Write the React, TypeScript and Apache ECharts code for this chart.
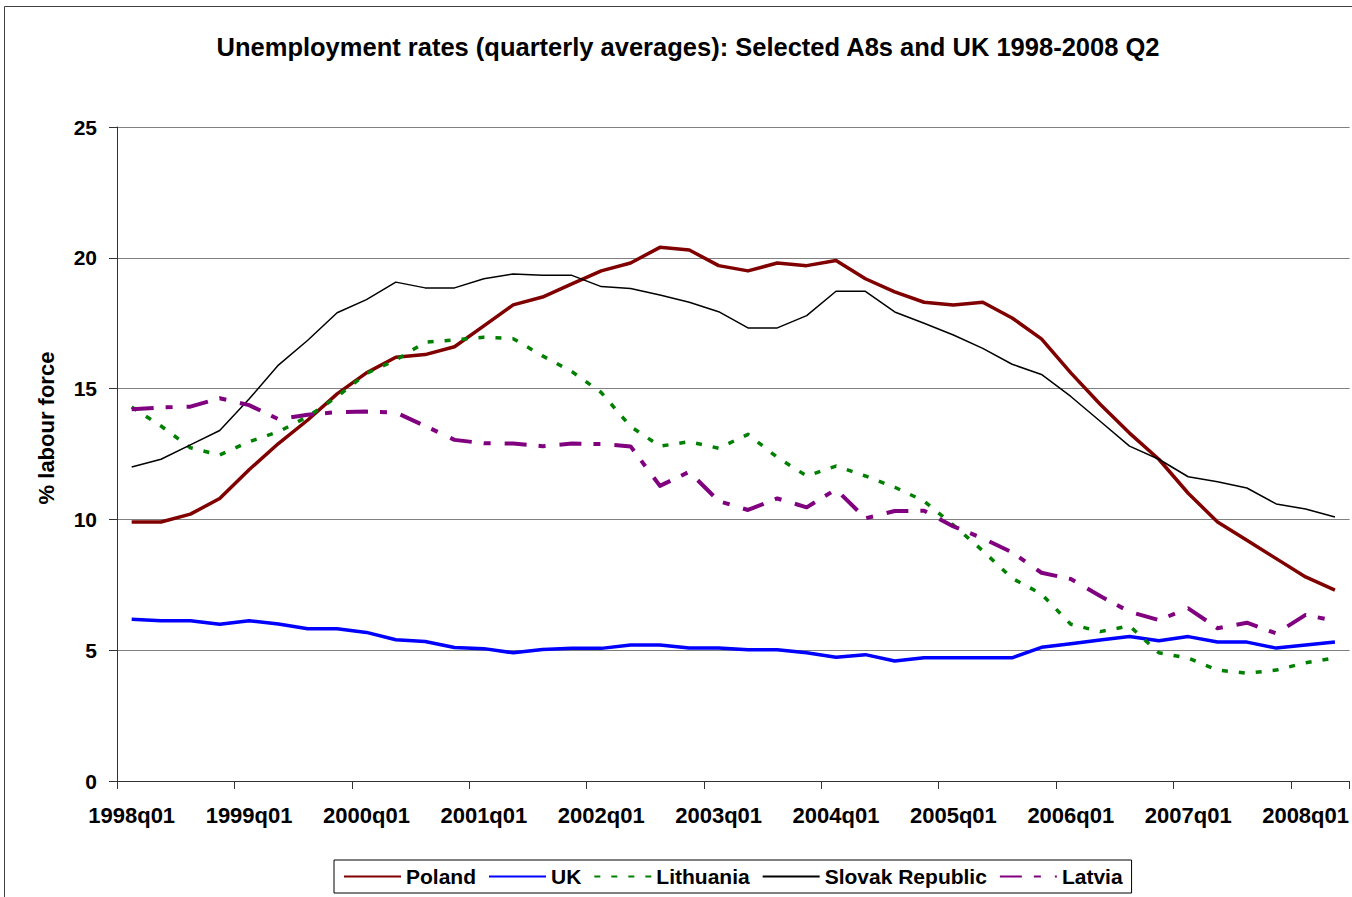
import React, { useEffect, useRef } from "react";
import * as echarts from "echarts";

const categories = [
  "1998q01", "1998q02", "1998q03", "1998q04",
  "1999q01", "1999q02", "1999q03", "1999q04",
  "2000q01", "2000q02", "2000q03", "2000q04",
  "2001q01", "2001q02", "2001q03", "2001q04",
  "2002q01", "2002q02", "2002q03", "2002q04",
  "2003q01", "2003q02", "2003q03", "2003q04",
  "2004q01", "2004q02", "2004q03", "2004q04",
  "2005q01", "2005q02", "2005q03", "2005q04",
  "2006q01", "2006q02", "2006q03", "2006q04",
  "2007q01", "2007q02", "2007q03", "2007q04",
  "2008q01", "2008q02",
];

const poland = [
  9.9, 9.9, 10.2, 10.8, 11.9, 12.9, 13.8, 14.8, 15.6, 16.2, 16.3, 16.6, 17.4, 18.2,
  18.5, 19.0, 19.5, 19.8, 20.4, 20.3, 19.7, 19.5, 19.8, 19.7, 19.9, 19.2, 18.7, 18.3,
  18.2, 18.3, 17.7, 16.9, 15.6, 14.4, 13.3, 12.3, 11.0, 9.9, 9.2, 8.5, 7.8, 7.3,
];
const uk = [
  6.18, 6.13, 6.13, 5.99, 6.13, 6.0, 5.82, 5.82, 5.68, 5.4, 5.33, 5.1, 5.06, 4.9,
  5.03, 5.07, 5.07, 5.2, 5.2, 5.08, 5.08, 5.02, 5.02, 4.9, 4.73, 4.83, 4.59, 4.71,
  4.71, 4.71, 4.71, 5.11, 5.25, 5.39, 5.52, 5.36, 5.52, 5.31, 5.31, 5.08, 5.2, 5.31,
];
const lithuania = [
  14.3, 13.57, 12.74, 12.46, 12.97, 13.35, 13.93, 14.69, 15.58, 16.09, 16.77, 16.86,
  16.96, 16.91, 16.25, 15.65, 14.85, 13.55, 12.8, 12.97, 12.72, 13.25, 12.37, 11.66,
  12.04, 11.66, 11.23, 10.7, 9.78, 8.8, 7.75, 7.15, 5.99, 5.71, 5.93, 4.9, 4.7, 4.24,
  4.12, 4.24, 4.52, 4.71,
];
const slovak = [
  12.0, 12.3, 12.85, 13.4, 14.6, 15.9, 16.85, 17.9, 18.4, 19.07, 18.85, 18.85, 19.2,
  19.38, 19.33, 19.33, 18.9, 18.83, 18.58, 18.3, 17.94, 17.32, 17.32, 17.79, 18.72,
  18.72, 17.93, 17.5, 17.05, 16.54, 15.93, 15.54, 14.7, 13.75, 12.8, 12.3, 11.63,
  11.44, 11.2, 10.59, 10.4, 10.09,
];
const latvia = [
  14.21, 14.28, 14.31, 14.63, 14.37, 13.83, 14.0, 14.1, 14.12, 14.09, 13.57, 13.04,
  12.91, 12.9, 12.8, 12.9, 12.88, 12.79, 11.28, 11.82, 10.7, 10.36, 10.8, 10.46,
  11.15, 10.04, 10.32, 10.33, 9.73, 9.28, 8.74, 7.96, 7.72, 7.07, 6.47, 6.15, 6.6,
  5.84, 6.05, 5.64, 6.35, 6.12,
];

const titleText = "Unemployment rates (quarterly averages): Selected A8s and UK 1998-2008 Q2";
const yName = "% labour force";
const legendNames = ["Poland", "UK", "Lithuania", "Slovak Republic", "Latvia"];
const FONT = "'Liberation Sans', Arial, sans-serif";

export default function App() {
  const ref = useRef<HTMLDivElement>(null);

  useEffect(() => {
    if (!ref.current) return;
    const chart = echarts.init(ref.current, undefined, { renderer: "svg" });
    const mk = (name: string, data: number[], color: string, width: number, type: any) => ({
      name,
      type: "line",
      data,
      symbol: "none",
      showSymbol: false,
      lineStyle: { color, width, type, cap: "butt", join: "round" },
      itemStyle: { color },
    });
    chart.setOption({
      animation: false,
      backgroundColor: "#ffffff",
      grid: { left: 117, right: 1, top: 127, bottom: 116, containLabel: false },
      graphic: [
        {
          type: "rect",
          z: -1,
          shape: { x: 4.5, y: 6.5, width: 2000, height: 2000 },
          style: { fill: "none", stroke: "#404040", lineWidth: 1 },
        },
        {
          type: "text",
          x: 688,
          y: 47,
          style: {
            text: titleText,
            fill: "#000",
            fontSize: 25.5,
            fontWeight: "bold",
            fontFamily: FONT,
            align: "center",
            verticalAlign: "middle",
          },
        },
        {
          type: "text",
          x: 46,
          y: 428,
          rotation: Math.PI / 2,
          style: {
            text: yName,
            fill: "#000",
            fontSize: 22,
            fontWeight: "bold",
            fontFamily: FONT,
            align: "center",
            verticalAlign: "middle",
          },
        },
      ],
      legend: {
        left: 334,
        top: 860,
        orient: "horizontal",
        itemWidth: 57,
        itemHeight: 14,
        itemGap: 12,
        padding: [6, 9, 6, 9],
        borderColor: "#000",
        borderWidth: 1,
        backgroundColor: "#fff",
        itemStyle: { opacity: 0 },
        textStyle: { fontFamily: FONT, fontWeight: "bold", fontSize: 21, color: "#000" },
        data: legendNames,
      },
      xAxis: {
        type: "category",
        data: categories,
        boundaryGap: true,
        axisLine: { show: true, lineStyle: { color: "#333", width: 1 } },
        axisTick: { show: true, interval: 3, length: 8, lineStyle: { color: "#333" } },
        axisLabel: {
          interval: 3,
          margin: 23,
          fontSize: 22,
          fontWeight: "bold",
          fontFamily: FONT,
          color: "#000",
        },
        splitLine: { show: false },
      },
      yAxis: {
        type: "value",
        min: 0,
        max: 25,
        interval: 5,
        axisLine: { show: true, lineStyle: { color: "#333", width: 1 } },
        axisTick: { show: true, length: 8, lineStyle: { color: "#333" } },
        axisLabel: {
          margin: 20,
          fontSize: 21,
          fontWeight: "bold",
          fontFamily: FONT,
          color: "#000",
        },
        splitLine: { show: true, lineStyle: { color: "#808080", width: 1 } },
      },
      series: [
        mk("Poland", poland, "#800000", 3.5, "solid"),
        mk("UK", uk, "#0000ff", 3.5, "solid"),
        mk("Lithuania", lithuania, "#008000", 3.5, [6, 11]),
        mk("Slovak Republic", slovak, "#000000", 1.5, "solid"),
        mk("Latvia", latvia, "#800080", 4, [22, 12, 7, 14]),
      ],
    });
    return () => chart.dispose();
  }, []);

  return (
    <div
      ref={ref}
      style={{ position: "absolute", left: 0, top: 0, width: 1352, height: 897 }}
    />
  );
}
